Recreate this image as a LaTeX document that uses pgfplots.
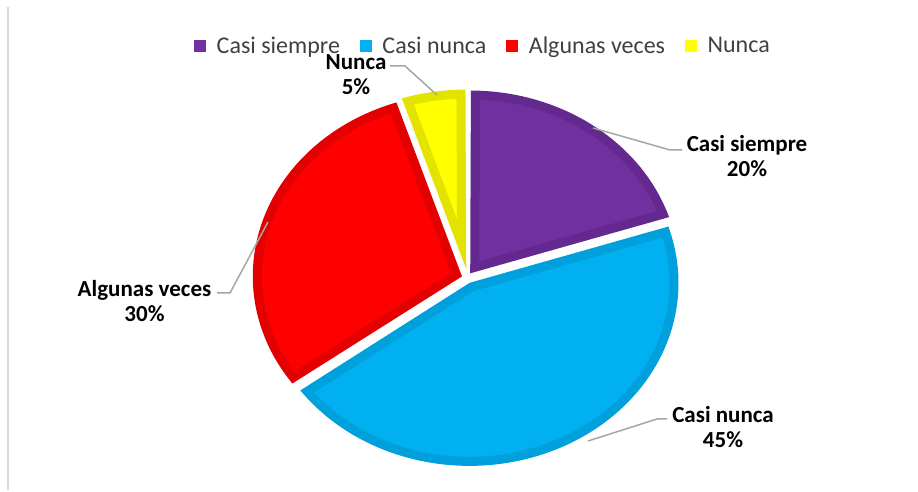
\documentclass[border=0pt]{standalone}
\usepackage{pgfplots}
\pgfplotsset{compat=1.18}
\usepackage{fontspec}
\setmainfont{Carlito}
\definecolor{cPur}{HTML}{7030A0}
\definecolor{cPurD}{HTML}{63298F}
\definecolor{cCya}{HTML}{00B0F0}
\definecolor{cCyaD}{HTML}{00A0DD}
\definecolor{cRed}{HTML}{FF0000}
\definecolor{cRedD}{HTML}{E20000}
\definecolor{cYel}{HTML}{FFFF00}
\definecolor{cYelD}{HTML}{E3E300}
\definecolor{cLead}{HTML}{A6A6A6}
\definecolor{cFrame}{HTML}{D9D9D9}
\definecolor{cLegTxt}{HTML}{404040}

\def\cx{467}\def\cy{212}\def\rx{209}\def\ry{183}\def\dexp{5.5}\def\hb{4.5}

% #1 start (cumulative %), #2 value (%), #3 fill, #4 border, #5 legend text
\newcommand{\pieslice}[5]{%
 \pgfmathsetmacro\aS{90-3.6*#1}%
 \pgfmathsetmacro\aE{90-3.6*(#1+#2)}%
 \pgfmathsetmacro\aM{(\aS+\aE)/2}%
 \pgfmathsetmacro\hw{1.8*#2}%
 \pgfmathsetmacro\Ax{\cx+\dexp*cos(\aM)}%
 \pgfmathsetmacro\Ay{\cy+\dexp*sin(\aM)}%
 \pgfmathsetmacro\Bx{\Ax+\hb/sin(\hw)*cos(\aM)}%
 \pgfmathsetmacro\By{\Ay+\hb/sin(\hw)*sin(\aM)}%
 \pgfmathsetmacro\dl{asin(\hb/(\ry-\hb))}%
 \pgfmathsetmacro\dA{\aE+\dl}%
 \pgfmathsetmacro\dB{\aS-\dl}%
 \pgfmathsetmacro\Rx{\rx-\hb}%
 \pgfmathsetmacro\Ry{\ry-\hb}%
 \edef\temp{\noexpand\addplot[fill=#3, draw=#4, line width=9pt, line join=miter, miter limit=20, domain=\dA:\dB, samples=120] ({\Ax+\Rx*cos(x)},{\Ay+\Ry*sin(x)}) -- (axis cs:\Bx,\By) -- cycle;}%
 \temp
 \addlegendentry{#5}%
}

\begin{document}
\begin{tikzpicture}
\begin{axis}[
  width=918pt, height=490pt, scale only axis,
  xmin=0, xmax=918, ymin=0, ymax=490,
  hide axis, clip=false,
  legend columns=4,
  legend style={at={(axis cs:483,444)}, anchor=center, draw=none, fill=none,
    font=\fontsize{24}{28}\selectfont, text=cLegTxt,
    /tikz/every even column/.append style={column sep=18pt}},
  legend cell align=left,
  legend image code/.code={\fill[#1, draw=none] (0pt,-6pt) rectangle (12pt,6pt); \path (16pt,0pt);},
]
\path (rel axis cs:0,0) rectangle (rel axis cs:1,1);

\pieslice{0}{20}{cPur}{cPurD}{Casi siempre}
\pieslice{20}{45}{cCya}{cCyaD}{Casi nunca}
\pieslice{65}{30}{cRed}{cRedD}{Algunas veces}
\pieslice{95}{5}{cYel}{cYelD}{Nunca}

% chart frame (left edge)
\addplot[forget plot, cFrame, line width=2.5pt] coordinates {(8,0) (8,483)};

% leader lines
\addplot[forget plot, cLead, line width=1.5pt] coordinates {(390,424) (405,424) (437,395)};
\addplot[forget plot, cLead, line width=1.5pt] coordinates {(593,362) (670,340) (682,340)};
\addplot[forget plot, cLead, line width=1.5pt] coordinates {(217,197) (230,197) (268,268)};
\addplot[forget plot, cLead, line width=1.5pt] coordinates {(588,49) (657,71) (667,71)};

% data labels
\node[font=\fontsize{23}{25}\selectfont\bfseries, align=center] at (axis cs:356,415) {Nunca\\5\%};
\node[font=\fontsize{23}{25}\selectfont\bfseries, align=center] at (axis cs:747,333.5) {Casi siempre\\20\%};
\node[font=\fontsize{23}{25}\selectfont\bfseries, align=center] at (axis cs:144.5,188.5) {Algunas veces\\30\%};
\node[font=\fontsize{23}{25}\selectfont\bfseries, align=center] at (axis cs:723,62.5) {Casi nunca\\45\%};
\end{axis}
\end{tikzpicture}
\end{document}
